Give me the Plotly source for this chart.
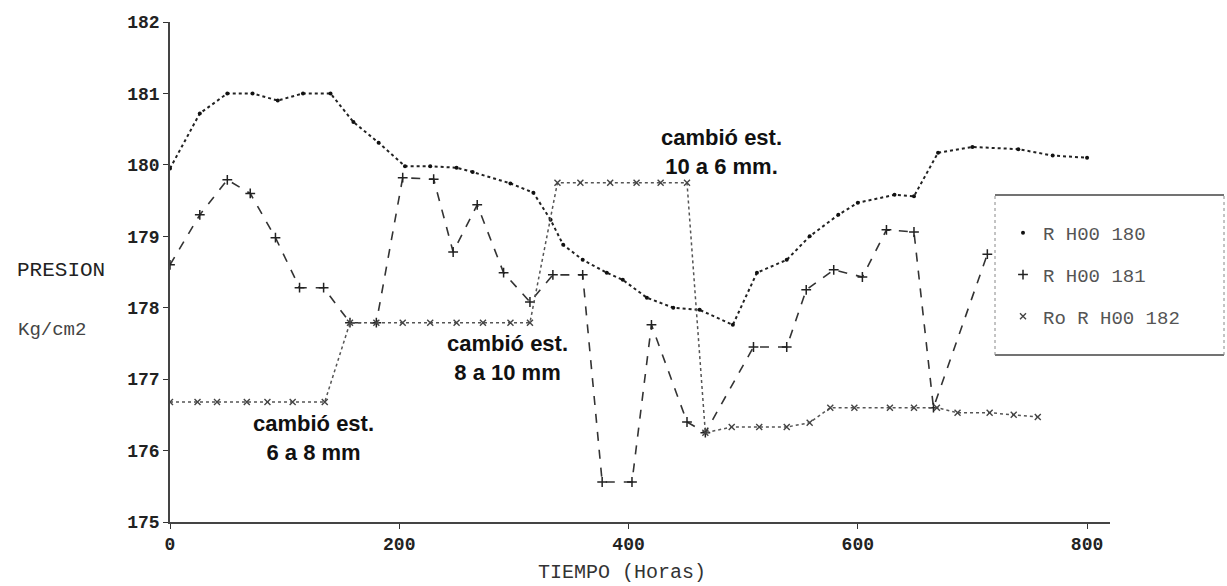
import plotly.graph_objects as go

# ---------------- data ----------------
# Serie "R H00 180" (puntos)
t_180 = [0, 26, 50, 72, 94, 116, 140, 160, 182, 205, 227, 250, 264, 297, 317, 332, 343,
         360, 381, 395, 416, 439, 462, 491, 512, 538, 558, 583, 600, 632, 649, 670,
         700, 740, 770, 800]
p_180 = [179.95, 180.72, 181.0, 181.0, 180.9, 181.0, 181.0, 180.6, 180.31, 179.98, 179.98,
         179.96, 179.9, 179.74, 179.61, 179.23, 178.88, 178.67, 178.49, 178.39, 178.14,
         178.0, 177.97, 177.76, 178.49, 178.67, 179.0, 179.3, 179.47, 179.58, 179.56,
         180.17, 180.25, 180.22, 180.13, 180.1]

# Serie "R H00 181" (cruces)
t_181 = [0, 26, 50, 70, 92, 113, 134, 157, 180, 203, 230, 247, 268, 291, 314, 334, 360,
         377, 403, 420, 451, 467, 509, 538, 555, 579, 604, 625, 649, 666, 713]
p_181 = [178.6, 179.3, 179.79, 179.6, 178.98, 178.28, 178.28, 177.79, 177.79, 179.82,
         179.8, 178.78, 179.44, 178.49, 178.08, 178.46, 178.46, 175.56, 175.56, 177.76,
         176.4, 176.25, 177.45, 177.45, 178.25, 178.53, 178.43, 179.09, 179.06, 176.6,
         178.75]

# Serie "Ro R H00 182" (aspas)
t_182 = [0, 24, 41, 67, 85, 107, 135, 157, 180, 203, 227, 250, 273, 297, 314, 338, 358,
         384, 407, 428, 451, 467, 490, 514, 538, 558, 576, 597, 628, 649, 669, 687, 715,
         736, 757]
p_182 = [176.68, 176.68, 176.68, 176.68, 176.68, 176.68, 176.68, 177.79, 177.79, 177.79,
         177.79, 177.79, 177.79, 177.79, 177.79, 179.75, 179.75, 179.75, 179.75, 179.75,
         179.75, 176.25, 176.33, 176.33, 176.33, 176.39, 176.6, 176.6, 176.6, 176.6,
         176.6, 176.53, 176.53, 176.5, 176.47]

series_names = ["R H00 180", "R H00 181", "Ro R H00 182"]

x_ticks = [0, 200, 400, 600, 800]
y_ticks = [175, 176, 177, 178, 179, 180, 181, 182]

notes = [
    (125, 176.18, "cambió est.<br>6 a 8 mm"),
    (294, 177.30, "cambió est.<br>8 a 10 mm"),
    (481, 180.18, "cambió est.<br>10 a 6 mm."),
]

# ---------------- figure ----------------
W, H = 1227, 586
ML, MR, MT, MB = 170, 117, 22, 64
PW, PH = W - ML - MR, H - MT - MB


def px_x(px):
    return (px - ML) / PW


def px_y(py):
    return (H - MB - py) / PH


styles = [
    dict(line=dict(color="#222", width=2, dash="dot"),
         marker=dict(symbol="circle", size=4, color="#111")),
    dict(line=dict(color="#333", width=1.6, dash="dash"),
         marker=dict(symbol="cross-thin", size=7, line=dict(color="#222", width=1.5))),
    dict(line=dict(color="#555", width=1.5, dash="dot"),
         marker=dict(symbol="x-thin", size=6, line=dict(color="#444", width=1.4))),
]

fig = go.Figure()
for (tx, py), name, st in zip([(t_180, p_180), (t_181, p_181), (t_182, p_182)],
                              series_names, styles):
    fig.add_trace(go.Scatter(x=tx, y=py, mode="lines+markers", name=name,
                             line=st["line"], marker=st["marker"], showlegend=False))
# legend entries (markers only, as in the original)
for i, (name, st) in enumerate(zip(series_names, styles)):
    fig.add_trace(go.Scatter(x=[None], y=[None], mode="markers", name=name,
                             marker=st["marker"], legendgroup=f"g{i}", showlegend=True))

for tx, ty, txt in notes:
    fig.add_annotation(x=tx, y=ty, xref="x", yref="y", text=f"<b>{txt}</b>",
                       showarrow=False, align="center", xanchor="center", yanchor="middle",
                       font=dict(family="Liberation Sans", size=22, color="#111"))

mono = "Liberation Mono"
fig.add_annotation(x=px_x(61), y=px_y(270), xref="paper", yref="paper", text="PRESION",
                   showarrow=False, xanchor="center", yanchor="middle",
                   font=dict(family=mono, size=21, color="#222"))
fig.add_annotation(x=px_x(52), y=px_y(330), xref="paper", yref="paper", text="Kg/cm2",
                   showarrow=False, xanchor="center", yanchor="middle",
                   font=dict(family=mono, size=19, color="#444"))
fig.add_annotation(x=px_x(622), y=px_y(572), xref="paper", yref="paper",
                   text="TIEMPO (Horas)", showarrow=False, xanchor="center",
                   yanchor="middle", font=dict(family=mono, size=20, color="#333"))

# legend frame
x0, x1, y0, y1 = px_x(995), px_x(1224), px_y(355), px_y(195)
fig.add_shape(type="line", xref="paper", yref="paper", x0=x0, x1=x1, y0=y1, y1=y1,
              line=dict(color="#444", width=1.5))
fig.add_shape(type="line", xref="paper", yref="paper", x0=x0, x1=x1, y0=y0, y1=y0,
              line=dict(color="#444", width=1.5))
fig.add_shape(type="line", xref="paper", yref="paper", x0=x0, x1=x0, y0=y0, y1=y1,
              line=dict(color="#888", width=1, dash="dot"))
fig.add_shape(type="line", xref="paper", yref="paper", x0=x1, x1=x1, y0=y0, y1=y1,
              line=dict(color="#888", width=1, dash="dot"))

fig.update_layout(
    width=W, height=H,
    margin=dict(l=ML, r=MR, t=MT, b=MB),
    paper_bgcolor="white", plot_bgcolor="white",
    legend=dict(x=px_x(1003), y=px_y(214), xanchor="left", yanchor="top",
                bgcolor="rgba(0,0,0,0)", borderwidth=0, tracegroupgap=14,
                font=dict(family=mono, size=19, color="#555")),
)
fig.update_xaxes(range=[0, 820], tickvals=x_ticks, ticktext=[str(v) for v in x_ticks],
                 showgrid=False, zeroline=False, showline=True, linecolor="#444",
                 linewidth=1.5, ticks="outside", ticklen=5, tickcolor="#333",
                 tickfont=dict(family=mono, size=18, color="#222", weight="bold"))
fig.update_yaxes(range=[175, 182], tickvals=y_ticks, ticktext=[str(v) for v in y_ticks],
                 showgrid=False, zeroline=False, showline=True, linecolor="#444",
                 linewidth=1.5, ticks="outside", ticklen=5, tickcolor="#333",
                 tickfont=dict(family=mono, size=18, color="#222", weight="bold"))

fig.write_html("out.html")
